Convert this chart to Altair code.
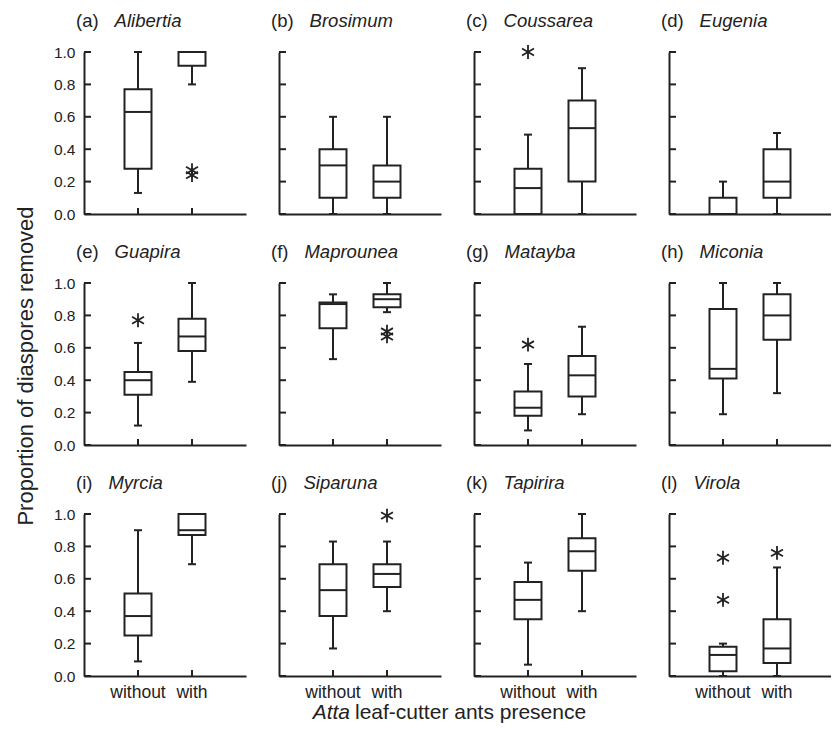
import altair as alt
import pandas as pd

# ---------------- data ----------------
letters = ["a", "b", "c", "d", "e", "f", "g", "h", "i", "j", "k", "l"]
genera = ["Alibertia", "Brosimum", "Coussarea", "Eugenia",
          "Guapira", "Maprounea", "Matayba", "Miconia",
          "Myrcia", "Siparuna", "Tapirira", "Virola"]
groups = ["without", "with"]

# "without" Atta: whisker low, Q1, median, Q3, whisker high
without_lo = [0.13, 0.00, 0.00, 0.00, 0.12, 0.53, 0.09, 0.19, 0.09, 0.17, 0.07, 0.00]
without_q1 = [0.28, 0.10, 0.00, 0.00, 0.31, 0.72, 0.18, 0.41, 0.25, 0.37, 0.35, 0.03]
without_med = [0.63, 0.30, 0.16, 0.00, 0.40, 0.87, 0.23, 0.47, 0.37, 0.53, 0.47, 0.13]
without_q3 = [0.77, 0.40, 0.28, 0.10, 0.45, 0.88, 0.33, 0.84, 0.51, 0.69, 0.58, 0.18]
without_hi = [1.00, 0.60, 0.49, 0.20, 0.63, 0.93, 0.50, 1.00, 0.90, 0.83, 0.70, 0.20]

# "with" Atta
with_lo = [0.80, 0.00, 0.00, 0.00, 0.39, 0.82, 0.19, 0.32, 0.69, 0.40, 0.40, 0.00]
with_q1 = [0.915, 0.10, 0.20, 0.10, 0.58, 0.85, 0.30, 0.65, 0.87, 0.55, 0.65, 0.08]
with_med = [1.00, 0.20, 0.53, 0.20, 0.67, 0.90, 0.43, 0.80, 0.90, 0.63, 0.77, 0.17]
with_q3 = [1.00, 0.30, 0.70, 0.40, 0.78, 0.93, 0.55, 0.93, 1.00, 0.69, 0.85, 0.35]
with_hi = [1.00, 0.60, 0.90, 0.50, 1.00, 1.00, 0.73, 1.00, 1.00, 0.83, 1.00, 0.67]

# outliers (asterisks)
out_panel = [0, 0, 2, 4, 5, 5, 6, 9, 11, 11, 11]
out_group = ["with", "with", "without", "without", "with", "with",
             "without", "with", "without", "without", "with"]
out_value = [0.24, 0.27, 1.00, 0.77, 0.67, 0.70, 0.62, 0.99, 0.73, 0.47, 0.76]

tick_values = [0.0, 0.2, 0.4, 0.6, 0.8, 1.0]
y_title = "Proportion of diaspores removed"
x_title_italic = "Atta"
x_title_rest = "leaf-cutter ants presence"

# ---------------- style ----------------
INK = "#222222"
FONT = "Liberation Sans"
W = 162
H = 162
ASTER = "M0,-1L0,1M-0.866,-0.5L0.866,0.5M-0.866,0.5L0.866,-0.5"
CHARW = {"(": 0.333, ")": 0.333, "a": 0.556, "b": 0.556, "c": 0.5, "d": 0.556,
         "e": 0.556, "f": 0.278, "g": 0.556, "h": 0.556, "i": 0.222,
         "j": 0.222, "k": 0.5, "l": 0.222}
TITLE_FS = 18.5


def text_layer(txt, x, y, size, italic=False, align="left", angle=0, baseline="alphabetic"):
    kw = dict(align=align, baseline=baseline, font=FONT, fontSize=size, color=INK)
    if italic:
        kw["fontStyle"] = "italic"
    if angle:
        kw["angle"] = angle
    return alt.Chart(pd.DataFrame({"t": [txt]})).mark_text(**kw).encode(
        text="t:N", x=alt.value(x), y=alt.value(y))


def panel(i):
    r, c = divmod(i, 4)
    box = pd.DataFrame({
        "group": groups,
        "lo": [without_lo[i], with_lo[i]],
        "q1": [without_q1[i], with_q1[i]],
        "med": [without_med[i], with_med[i]],
        "q3": [without_q3[i], with_q3[i]],
        "hi": [without_hi[i], with_hi[i]],
    })
    xs = alt.Scale(domain=groups, paddingInner=0, paddingOuter=0.5)
    ys = alt.Scale(domain=[0, 1], nice=False)
    xaxis = alt.Axis(labels=(r == 2), ticks=False, labelPadding=7, labelFontSize=17.5,
                     labelAngle=0, title=None, zindex=1)
    yaxis = alt.Axis(values=tick_values, format=".1f", labels=(c == 0), ticks=False,
                     labelPadding=9, title=None, zindex=1)
    X = alt.X("group:N", scale=xs, axis=xaxis, sort=groups, title=None)

    def Y(field):
        return alt.Y(field, scale=ys, axis=yaxis, title=None)

    base = alt.Chart(box)
    ytk = alt.Chart(pd.DataFrame({"v": tick_values})).mark_rule(
        color=INK, strokeWidth=2).encode(
        y=Y("v:Q"), x=alt.value(0), x2=alt.value(7))
    xtk = base.mark_rule(color=INK, strokeWidth=2).encode(
        x=X, y=alt.value(H), y2=alt.value(H - 6))
    whisk = base.mark_rule(color=INK, strokeWidth=2).encode(
        x=X, y=Y("lo:Q"), y2="hi:Q")
    boxes = base.mark_bar(size=27, fill="white", stroke=INK, strokeWidth=2).encode(
        x=X, y=Y("q1:Q"), y2="q3:Q")
    med = base.mark_tick(size=27, thickness=2, color=INK, opacity=1).encode(
        x=X, y=Y("med:Q"))
    cap_lo = base.mark_tick(size=8, thickness=2, color=INK, opacity=1).encode(
        x=X, y=Y("lo:Q"))
    cap_hi = base.mark_tick(size=8, thickness=2, color=INK, opacity=1).encode(
        x=X, y=Y("hi:Q"))
    layers = [ytk, xtk, whisk, boxes, med, cap_lo, cap_hi]

    od = pd.DataFrame({"p": out_panel, "group": out_group, "v": out_value})
    od = od[od["p"] == i]
    if len(od):
        layers.append(alt.Chart(od).mark_point(
            shape=ASTER, size=190, filled=False, stroke=INK, strokeWidth=1.8,
            opacity=1).encode(x=X, y=Y("v:Q")))

    lab = f"({letters[i]})"
    lw = sum(CHARW.get(ch, 0.5) for ch in lab) * TITLE_FS
    layers.append(text_layer(lab, -8, -25, TITLE_FS))
    layers.append(text_layer(genera[i], -8 + lw + 16, -25, TITLE_FS, italic=True))

    if i == 4:
        layers.append(text_layer(y_title, -51, 83, 22, align="center", angle=270))
    if i == 9:
        layers.append(text_layer(x_title_italic, 71, 205, 21, italic=True, align="right"))
        layers.append(text_layer(x_title_rest, 76, 205, 21))

    return alt.layer(*layers).properties(width=W, height=H)


chart = alt.concat(
    *[panel(i) for i in range(12)],
    columns=4, spacing=alt.RowColnumber(row=69, column=33), bounds="flush"
).properties(
    padding={"left": 6, "top": 4, "right": 0, "bottom": 0}
).configure_view(stroke=None).configure_axis(
    domainColor=INK, domainWidth=2, labelColor=INK, labelFont=FONT,
    labelFontSize=15.5, grid=False
)

chart.save("out.html", embed_options={"renderer": "svg", "actions": False})
